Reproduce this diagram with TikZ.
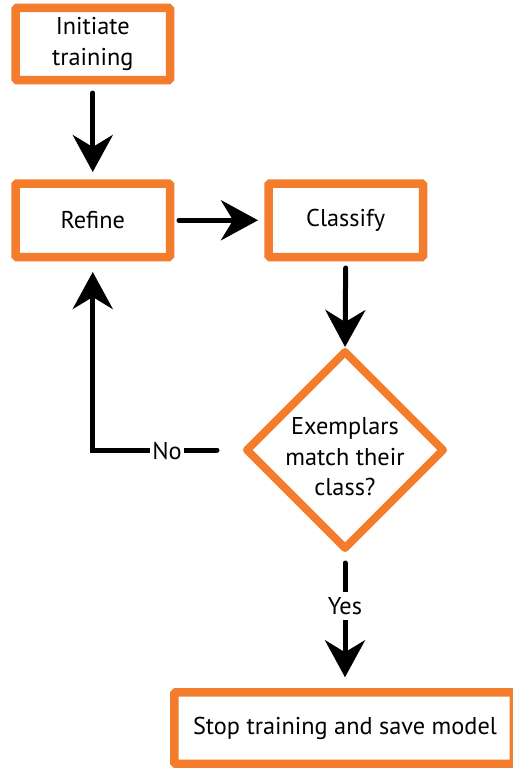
\documentclass[tikz,border=0pt]{standalone}
\usepackage{fontspec}
\setmainfont{PT Sans}
\usetikzlibrary{arrows.meta,shapes.geometric}
\definecolor{borange}{RGB}{244,125,45}
\begin{document}
\begin{tikzpicture}[x=1pt,y=-1pt,
  txt/.style={font=\fontsize{24.3}{30.5}\selectfont, text=black},
  box/.style={txt, draw=borange, line width=8.5pt, rounded corners=1.5pt, fill=white,
    inner sep=0pt, outer sep=0pt, align=center},
  dec/.style={diamond, draw=borange, line width=8pt, line join=round, fill=white,
    inner sep=0pt, outer sep=0pt, minimum width=196pt, minimum height=196pt},
  conn/.style={line width=5pt, line cap=round, -{Stealth[length=37pt,width=40pt,inset=12pt]}},
  lbl/.style={txt, fill=white, inner sep=2.5pt}
]
\useasboundingbox (0,0) rectangle (512,768);
\node[box, minimum width=154.5pt, minimum height=72pt] (init) at (92.75,44) {Initiate\\training};
\node[box, minimum width=154.5pt, minimum height=73.5pt] (refine) at (92.75,220.25) {Refine};
\node[box, minimum width=154.5pt, minimum height=73.5pt] (classify) at (345.75,220.25) {Classify};
\node[dec] (dia) at (345,450) {};
\node[txt, align=center] (diatext) at (345,457) {Exemplars\\match their\\class?};
\node[box, minimum width=339.5pt, minimum height=71.5pt] (stop) at (344,728) {\hspace*{2pt}Stop training and save model};

\coordinate (nocorner) at (refine.south |- dia.west);
\draw[conn, shorten <=13pt, shorten >=11.5pt] (init.south) -- (refine.north);
\draw[conn, shorten <=9pt, shorten >=10.5pt] (refine.east) -- (classify.west);
\draw[conn, shorten <=11pt, shorten >=5pt] (classify.south) -- (dia.north);
\draw[conn, shorten <=30pt, shorten >=15pt] (dia.west) -- (nocorner) -- (refine.south);
\draw[conn, shorten <=15pt, shorten >=15pt] (dia.south) -- (dia.south |- stop.north);
\node[lbl] (no) at (167,451) {No};
\node[lbl, inner sep=5pt] (yes) at (345,606) {Yes};
\end{tikzpicture}
\end{document}
